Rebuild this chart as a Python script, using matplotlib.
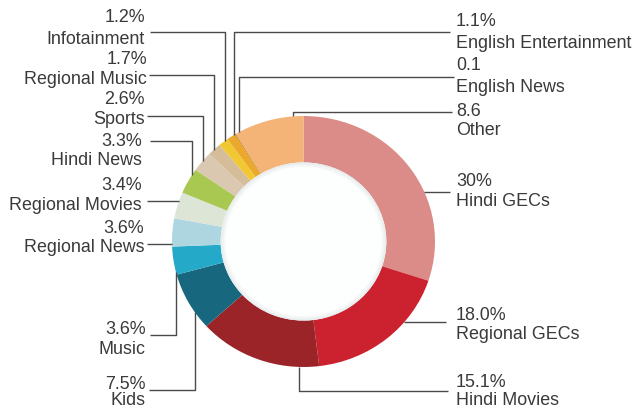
import numpy as np
import matplotlib
matplotlib.use("Agg")
import matplotlib.pyplot as plt
from matplotlib.patches import Ellipse

# ---- data (clockwise from 12 o'clock) ----
categories = ["Hindi GECs", "Regional GECs", "Hindi Movies", "Kids", "Music",
              "Regional News", "Regional Movies", "Hindi News", "Sports",
              "Regional Music", "Infotainment", "English Entertainment",
              "English News", "Other"]
values = [30.0, 18.0, 15.1, 7.5, 3.6, 3.6, 3.4, 3.3, 2.6, 1.7, 1.2, 1.1, 0.1, 8.6]
value_labels = ["30%", "18.0%", "15.1%", "7.5%", "3.6%", "3.6%", "3.4%", "3.3%",
                "2.6%", "1.7%", "1.2%", "1.1%", "0.1", "8.6"]
colors = ["#dc8c88", "#cc2230", "#9a2428", "#17687e", "#25a9c8", "#aed6e0",
          "#dde5d6", "#a9c852", "#dac9b0", "#d5bd9a", "#f2c832", "#eaa92c",
          "#b0700f", "#f4b478"]

# ---- layout (pixel coordinates, y downwards) ----
W, H = 637, 410
cx, cy, ra, rb = 303.5, 242.5, 131.5, 125.5   # donut ellipse
ring_width = 0.37

# label layout: text x, ha, pct y, name y, leader y, leader start x, leader turn x, direction
layout = {
    "Infotainment":          (145, "right", 18, 39, 33, 150, 225, "top"),
    "Regional Music":        (147, "right", 59, 79, 76, 149, 214, "top"),
    "Sports":                (145, "right", 100, 119, 117, 147, 203, "top"),
    "Hindi News":            (142, "right", 142, 161, 142, 150, 192, "top"),
    "Regional Movies":       (142, "right", 186, 206, 202, 147, None, "left"),
    "Regional News":         (144, "right", 229, 248, 245, 147, None, "left"),
    "Music":                 (146, "right", 330, 350, 336, 150, 176, "bottom"),
    "Kids":                  (146, "right", 385, 401, 391, 149, 195, "bottom"),
    "English Entertainment": (456, "left", 22, 43, 33, 450, 234, "top"),
    "English News":          (456, "left", 66, 87, 78, 454, 239, "top"),
    "Other":                 (456, "left", 112, 131, 113, 452, 293, "top"),
    "Hindi GECs":            (456, "left", 182, 202, 193, 450, None, "right"),
    "Regional GECs":         (456, "left", 316, 335, 323, 446, None, "right"),
    "Hindi Movies":          (456, "left", 383, 401, 392, 448, 299, "bottom"),
}

fig = plt.figure(figsize=(W / 100, H / 100), dpi=100)
fig.patch.set_facecolor("white")

# donut axes (elliptical, matching reference)
pax = fig.add_axes([(cx - ra) / W, (H - (cy + rb)) / H, 2 * ra / W, 2 * rb / H])
pax.pie(values, colors=colors, startangle=90, counterclock=False, radius=1,
        wedgeprops=dict(width=ring_width, edgecolor="none", linewidth=0))
# faint shadow on the inner edge of the ring
inner = 1 - ring_width
for k, c in enumerate(["#e9eded", "#f1f4f4", "#f7f9f9"]):
    r = inner - 0.012 * k
    pax.add_patch(Ellipse((0, 0), 2 * r, 2 * r, facecolor=c, edgecolor="none", zorder=3))
pax.add_patch(Ellipse((0, 0), 2 * (inner - 0.036), 2 * (inner - 0.036),
                      facecolor="#fdfefe", edgecolor="none", zorder=3))
pax.set_xlim(-1, 1)
pax.set_ylim(-1, 1)
pax.set_aspect("auto")
pax.axis("off")

# overlay axes in pixel coordinates
ax = fig.add_axes([0, 0, 1, 1])
ax.set_xlim(0, W)
ax.set_ylim(H, 0)
ax.axis("off")

font = dict(family=["Liberation Sans", "DejaVu Sans"], fontsize=12.9, color="#3a3a3a")
line_kw = dict(color="#4a4a4a", lw=1.0, solid_capstyle="butt")


def ring_y(x, side):
    t = np.sqrt(max(0.0, 1 - ((x - cx) / ra) ** 2))
    return cy - rb * t if side == "top" else cy + rb * t


def ring_x(y, side):
    t = np.sqrt(max(0.0, 1 - ((y - cy) / rb) ** 2))
    return cx - ra * t if side == "left" else cx + ra * t


for cat, vlab in zip(categories, value_labels):
    tx, ha, py, ny, ly, lx0, lx1, d = layout[cat]
    ax.text(tx, py, vlab, ha=ha, va="center", **font)
    ax.text(tx, ny, cat, ha=ha, va="center", **font)
    if d in ("top", "bottom"):
        yend = ring_y(lx1, d)
        ax.plot([lx0, lx1, lx1], [ly, ly, yend], **line_kw)
    else:
        xend = ring_x(ly, d)
        ax.plot([lx0, xend], [ly, ly], **line_kw)

fig.savefig("out.png", dpi=100, facecolor="white")
